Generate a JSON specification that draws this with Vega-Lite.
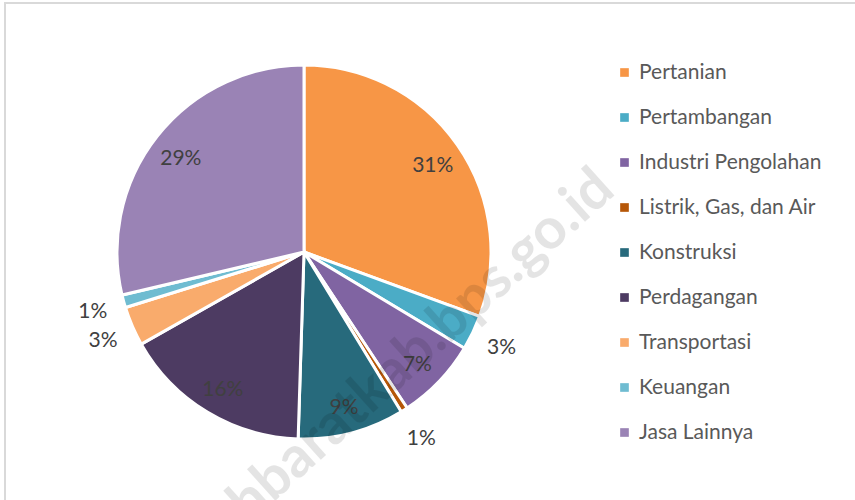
{
  "$schema": "https://vega.github.io/schema/vega-lite/v6.json",
  "width": 852,
  "height": 499,
  "autosize": {"type": "none"},
  "padding": {"left": 5, "top": 3, "right": 0, "bottom": 0},
  "background": "white",
  "config": {"view": {"stroke": "#d9d9d9", "strokeWidth": 2}},
  "data": {
    "values": [
      {"rank": 1, "sector": "Pertanian", "value": 30.6, "label": "31%"},
      {"rank": 2, "sector": "Pertambangan", "value": 3.0, "label": "3%"},
      {"rank": 3, "sector": "Industri Pengolahan", "value": 7.1, "label": "7%"},
      {"rank": 4, "sector": "Listrik, Gas, dan Air", "value": 0.6, "label": "1%"},
      {"rank": 5, "sector": "Konstruksi", "value": 9.2, "label": "9%"},
      {"rank": 6, "sector": "Perdagangan", "value": 16.3, "label": "16%"},
      {"rank": 7, "sector": "Transportasi", "value": 3.4, "label": "3%"},
      {"rank": 8, "sector": "Keuangan", "value": 1.1, "label": "1%"},
      {"rank": 9, "sector": "Jasa Lainnya", "value": 28.7, "label": "29%"}
    ]
  },
  "layer": [
    {
      "mark": {"type": "arc", "stroke": "white", "strokeWidth": 3, "outerRadius": 187},
      "encoding": {
        "x": {"value": 299},
        "y": {"value": 249},
        "theta": {"field": "value", "type": "quantitative", "stack": true},
        "order": {"field": "rank", "type": "quantitative", "sort": "ascending"},
        "color": {
          "field": "sector",
          "type": "nominal",
          "scale": {
            "domain": ["Pertanian", "Pertambangan", "Industri Pengolahan", "Listrik, Gas, dan Air", "Konstruksi", "Perdagangan", "Transportasi", "Keuangan", "Jasa Lainnya"],
            "range": ["#F79646", "#4BACC6", "#8064A2", "#B65708", "#276A7C", "#4D3B62", "#F9AB6C", "#6FBCD1", "#9A83B5"]
          },
          "legend": {
            "title": null,
            "orient": "none",
            "legendX": 609,
            "legendY": 59,
            "symbolType": "square",
            "symbolSize": 75,
            "symbolStrokeWidth": 0,
            "labelFont": "Lato",
            "labelFontSize": 21,
            "labelColor": "#595959",
            "labelOffset": 4,
            "rowPadding": 23,
            "padding": 0,
            "labelLimit": 300
          }
        }
      }
    },
    {
      "mark": {"type": "text", "radius": 157, "dy": 4, "font": "Lato", "fontSize": 21, "color": "#404040"},
      "encoding": {
        "x": {"value": 299},
        "y": {"value": 249},
        "theta": {"field": "value", "type": "quantitative", "stack": true},
        "order": {"field": "rank", "type": "quantitative", "sort": "ascending"},
        "text": {"condition": {"test": "datum.value >= 5", "field": "label"}, "value": ""}
      }
    },
    {
      "mark": {"type": "text", "radius": 219, "dy": 2, "font": "Lato", "fontSize": 21, "color": "#404040"},
      "encoding": {
        "x": {"value": 299},
        "y": {"value": 249},
        "theta": {"field": "value", "type": "quantitative", "stack": true},
        "order": {"field": "rank", "type": "quantitative", "sort": "ascending"},
        "text": {"condition": {"test": "datum.value < 5", "field": "label"}, "value": ""}
      }
    },
    {
      "data": {"values": [{"wm": "acehbaratkab.bps.go.id"}]},
      "mark": {"type": "text", "font": "Lato", "fontWeight": "bold", "fontSize": 57, "angle": -42, "align": "right", "baseline": "alphabetic", "color": "#000000", "opacity": 0.1},
      "encoding": {
        "x": {"value": 612},
        "y": {"value": 190},
        "text": {"field": "wm", "type": "nominal"}
      }
    }
  ]
}
